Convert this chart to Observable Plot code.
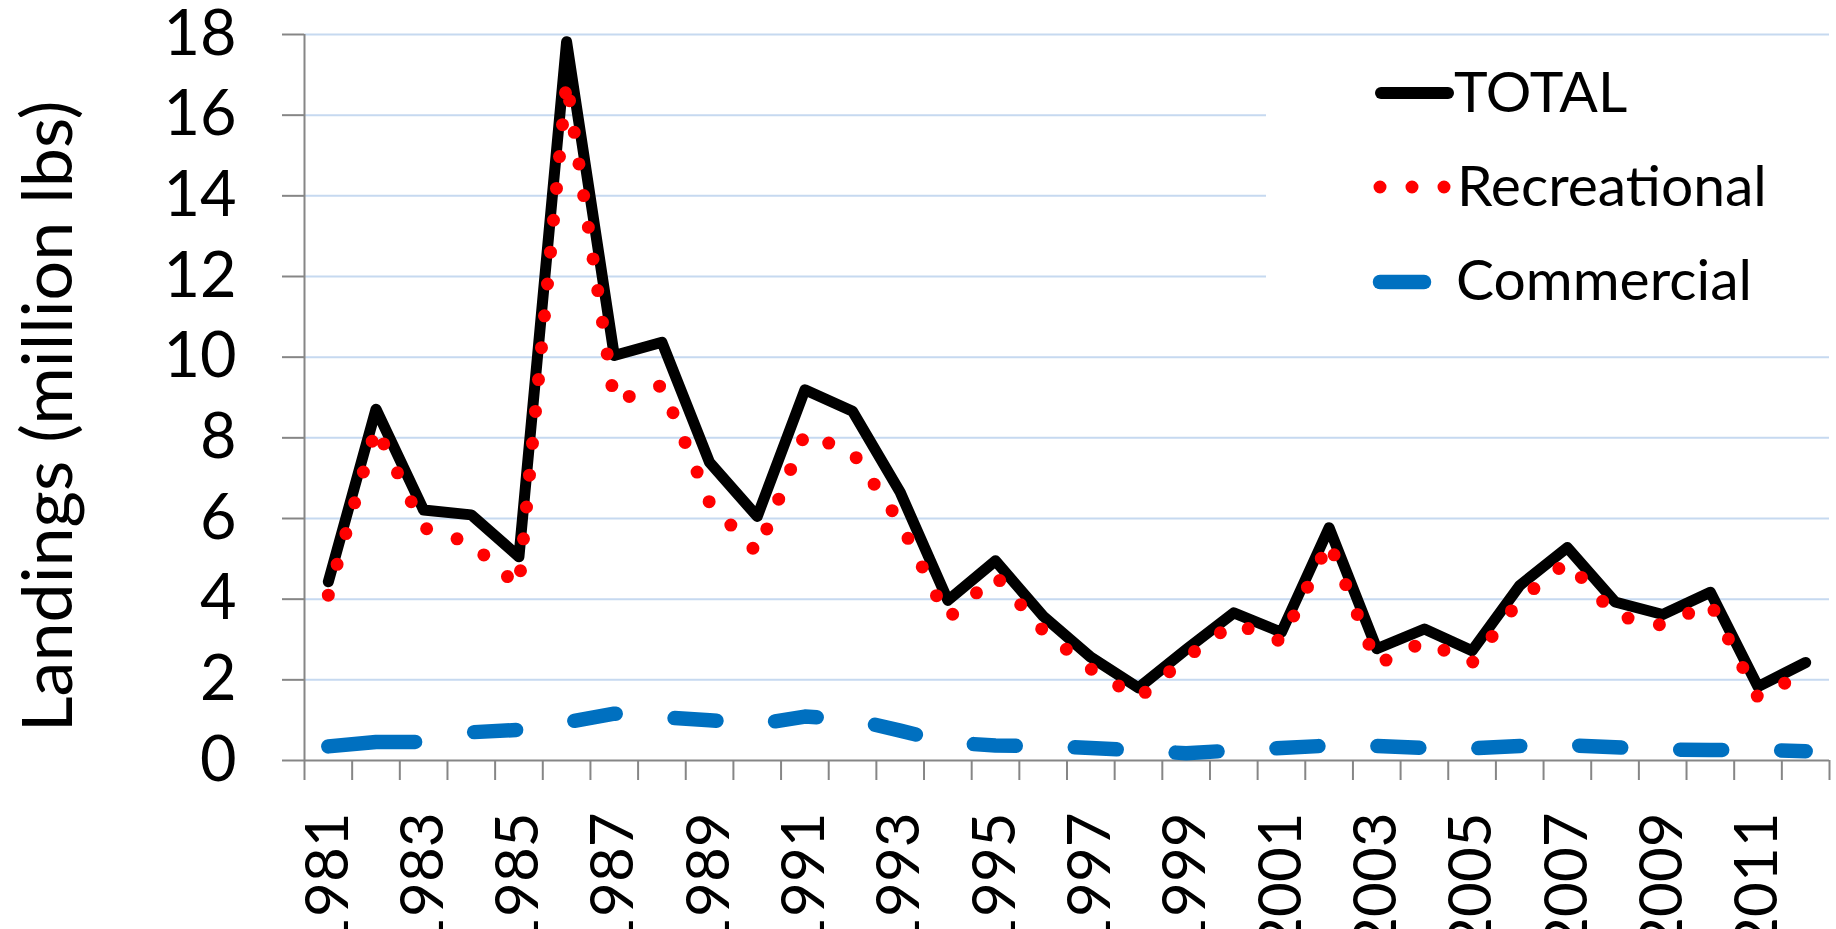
<!DOCTYPE html>
<html>
<head>
<meta charset="utf-8">
<script src="https://cdn.jsdelivr.net/npm/d3@7"></script>
<script src="https://cdn.jsdelivr.net/npm/@observablehq/plot@0.6"></script>
<style>
  html, body { margin: 0; padding: 0; background: #fff; }
  #wrap { position: relative; width: 1836px; height: 929px; overflow: hidden; font-family: Lato, sans-serif; }
  #legend { position: absolute; left: 0; top: 0; pointer-events: none; }
</style>
</head>
<body>
<div id="wrap"></div>
<script>
// ---- data (million lbs) ----
const years = [1981, 1982, 1983, 1984, 1985, 1986, 1987, 1988, 1989, 1990, 1991, 1992, 1993, 1994, 1995, 1996,
               1997, 1998, 1999, 2000, 2001, 2002, 2003, 2004, 2005, 2006, 2007, 2008, 2009, 2010, 2011, 2012];
const total = [4.43, 8.71, 6.21, 6.09, 5.05, 17.82, 10.04, 10.37, 7.39, 6.05, 9.19, 8.66, 6.65, 3.97, 4.95, 3.58,
               2.56, 1.80, 2.75, 3.66, 3.18, 5.77, 2.77, 3.26, 2.72, 4.34, 5.28, 3.93, 3.62, 4.17, 1.83, 2.43];
const recreational = [4.10, 8.25, 5.77, 5.38, 4.30, 16.85, 8.90, 9.30, 6.39, 5.15, 8.10, 7.64, 5.90, 3.52, 4.58, 3.22,
               2.27, 1.55, 2.55, 3.41, 2.95, 5.42, 2.38, 2.95, 2.42, 3.98, 4.93, 3.60, 3.35, 3.90, 1.56, 2.20];
const commercial = [0.35, 0.46, 0.46, 0.70, 0.76, 0.95, 1.16, 1.07, 1.00, 0.90, 1.09, 1.02, 0.74, 0.45, 0.37, 0.36,
               0.31, 0.25, 0.18, 0.25, 0.31, 0.37, 0.36, 0.31, 0.30, 0.36, 0.38, 0.33, 0.27, 0.26, 0.27, 0.23];
const yTicks = [0, 2, 4, 6, 8, 10, 12, 14, 16, 18];
const xLabelYears = [1981, 1983, 1985, 1987, 1989, 1991, 1993, 1995, 1997, 1999, 2001, 2003, 2005, 2007, 2009, 2011];
const seriesNames = ["TOTAL", "Recreational", "Commercial"];
const yTitle = "Landings (million lbs)";

// ---- table ----
const table = years.map((year, i) => ({year, total: total[i], recreational: recreational[i], commercial: commercial[i]}));
const xDomain = [years[0] - 0.5, years[years.length - 1] + 0.5];
const boundaries = years.map(y => y - 0.5).concat([years[years.length - 1] + 0.5]);

// ---- styles ----
const FONT = "Lato, 'Open Sans', sans-serif";
const axisGray = "#868686";
const gridBlue = "#c6d9f0";
const blueDash = [87, 60].concat(...Array(24).fill([42, 59])).join(" ");

const chart = Plot.plot({
  width: 1836,
  height: 929,
  marginLeft: 304,
  marginRight: 7,
  marginTop: 34,
  marginBottom: 169,
  style: {fontFamily: FONT, fontSize: "63px", background: "white", color: "black"},
  x: {domain: xDomain},
  y: {domain: [yTicks[0], yTicks[yTicks.length - 1]]},
  marks: [
    Plot.gridY(yTicks.slice(1), {stroke: gridBlue, strokeOpacity: 1, strokeWidth: 2}),
    // axis lines
    Plot.ruleX([xDomain[0]], {stroke: axisGray, strokeWidth: 2}),
    Plot.ruleY([yTicks[0]], {stroke: axisGray, strokeWidth: 2}),
    // y axis ticks and labels
    Plot.axisY(yTicks, {tickSize: 22, tickPadding: 46, stroke: axisGray, strokeWidth: 2, fill: "black",
                        fontSize: 63, label: null, tickFormat: d => String(d)}),
    // x axis tick marks at category boundaries
    Plot.axisX(boundaries, {tickSize: 20, stroke: axisGray, strokeWidth: 2, tickFormat: () => "", label: null}),
    // x axis labels (every other year)
    Plot.axisX(xLabelYears, {tickSize: 0, tickPadding: 52, tickRotate: -90, fill: "black",
                             fontSize: 60, label: null, tickFormat: d => String(d)}),
    // y title
    Plot.text([yTitle], {frameAnchor: "left", rotate: -90, lineAnchor: "top", textAnchor: "middle",
                         dx: -282, dy: 19, fontSize: 70, fill: "black"}),
    // series
    Plot.lineY(table, {x: "year", y: "total", stroke: "#000000", strokeWidth: 11,
                       strokeLinejoin: "round", strokeLinecap: "round"}),
    Plot.lineY(table, {x: "year", y: "recreational", stroke: "#ff0000", strokeWidth: 13,
                       strokeDasharray: "0 32", strokeLinecap: "round", strokeLinejoin: "round"}),
    Plot.lineY(table, {x: "year", y: "commercial", stroke: "#0070c0", strokeWidth: 14.5,
                       strokeDasharray: blueDash, strokeLinecap: "round", strokeLinejoin: "round"})
  ]
});

const wrap = document.getElementById("wrap");
wrap.appendChild(chart);

// ---- legend overlay ----
const NS = "http://www.w3.org/2000/svg";
const leg = document.createElementNS(NS, "svg");
leg.setAttribute("id", "legend");
leg.setAttribute("width", 1836);
leg.setAttribute("height", 929);
function el(tag, attrs, text) {
  const e = document.createElementNS(NS, tag);
  for (const k in attrs) e.setAttribute(k, attrs[k]);
  if (text != null) e.textContent = text;
  leg.appendChild(e);
  return e;
}
el("rect", {x: 1266, y: 46, width: 566, height: 298, fill: "white"});
// TOTAL
el("line", {x1: 1381, y1: 93, x2: 1448, y2: 93, stroke: "#000", "stroke-width": 12, "stroke-linecap": "round"});
el("text", {x: 1454, y: 112, "font-size": 57, "font-family": FONT, fill: "#000"}, seriesNames[0]);
// Recreational
el("line", {x1: 1380, y1: 187, x2: 1446, y2: 187, stroke: "#ff0000", "stroke-width": 13,
            "stroke-linecap": "round", "stroke-dasharray": "0 32"});
el("text", {x: 1457, y: 206, "font-size": 57, "font-family": FONT, fill: "#000"}, seriesNames[1]);
// Commercial
el("line", {x1: 1380, y1: 282, x2: 1424, y2: 282, stroke: "#0070c0", "stroke-width": 14.5, "stroke-linecap": "round"});
el("text", {x: 1456, y: 300, "font-size": 57, "font-family": FONT, fill: "#000"}, seriesNames[2]);
wrap.appendChild(leg);
</script>
</body>
</html>
